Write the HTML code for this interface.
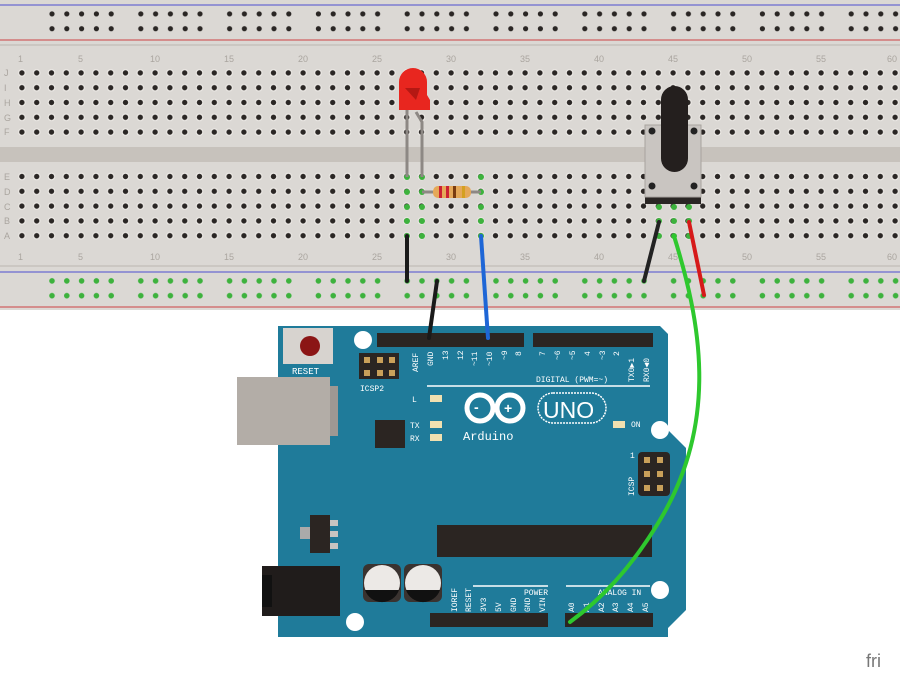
<!DOCTYPE html>
<html><head><style>html,body{margin:0;padding:0;background:#fff;}svg{display:block}</style></head>
<body>
<svg width="900" height="675" viewBox="0 0 900 675" xmlns="http://www.w3.org/2000/svg" font-family="Liberation Mono, monospace">
<defs>
<pattern id="h" x="14.5" y="65.5" width="14.8" height="14.8" patternUnits="userSpaceOnUse">
<circle cx="7.4" cy="7.4" r="3.8" fill="#eeebe7"/><circle cx="7.4" cy="7.4" r="2.7" fill="#2a2624"/></pattern>
<pattern id="rt" x="44.6" y="6.5" width="88.8" height="14.8" patternUnits="userSpaceOnUse">
<g fill="#2a2624"><circle cx="7.4" cy="7.4" r="2.6"/><circle cx="22.2" cy="7.4" r="2.6"/><circle cx="37" cy="7.4" r="2.6"/><circle cx="51.8" cy="7.4" r="2.6"/><circle cx="66.6" cy="7.4" r="2.6"/></g></pattern>
<pattern id="rb" x="44.6" y="273.5" width="88.8" height="14.8" patternUnits="userSpaceOnUse">
<g fill="#3db23d"><circle cx="7.4" cy="7.4" r="2.8"/><circle cx="22.2" cy="7.4" r="2.8"/><circle cx="37" cy="7.4" r="2.8"/><circle cx="51.8" cy="7.4" r="2.8"/><circle cx="66.6" cy="7.4" r="2.8"/></g></pattern>
</defs>
<rect x="0" y="0" width="900" height="310" fill="#dbd8d4"/>
<rect x="0" y="44" width="900" height="2" fill="#cbc7c2"/>
<line x1="0" y1="5" x2="900" y2="5" stroke="#6a6ad0" stroke-width="1.2"/>
<line x1="0" y1="40" x2="900" y2="40" stroke="#d06060" stroke-width="1.2"/>
<line x1="0" y1="272" x2="900" y2="272" stroke="#6a6ad0" stroke-width="1.2"/>
<line x1="0" y1="307" x2="900" y2="307" stroke="#d06060" stroke-width="1.2"/>
<rect x="0" y="265" width="900" height="2" fill="#cbc7c2"/>
<rect x="0" y="147" width="900" height="15" fill="#c7c2bc"/>
<rect x="44.6" y="7" width="856" height="30" fill="url(#rt)"/>
<rect x="44.6" y="275" width="856" height="28" fill="url(#rb)"/>
<rect x="14.5" y="65.5" width="888" height="74" fill="url(#h)"/>
<rect x="14.5" y="169.5" width="888" height="74" fill="url(#h)"/>
<g fill="#aaa59f" font-size="9" font-family="Liberation Sans, sans-serif">
<text x="18" y="62">1</text><text x="78" y="62">5</text><text x="150" y="62">10</text><text x="224" y="62">15</text><text x="298" y="62">20</text><text x="372" y="62">25</text><text x="446" y="62">30</text><text x="520" y="62">35</text><text x="594" y="62">40</text><text x="668" y="62">45</text><text x="742" y="62">50</text><text x="816" y="62">55</text><text x="887" y="62">60</text>
<text x="18" y="260">1</text><text x="78" y="260">5</text><text x="150" y="260">10</text><text x="224" y="260">15</text><text x="298" y="260">20</text><text x="372" y="260">25</text><text x="446" y="260">30</text><text x="520" y="260">35</text><text x="594" y="260">40</text><text x="668" y="260">45</text><text x="742" y="260">50</text><text x="816" y="260">55</text><text x="887" y="260">60</text>
<text x="4" y="76">J</text><text x="4" y="91">I</text><text x="4" y="106">H</text><text x="4" y="121">G</text><text x="4" y="135">F</text>
<text x="4" y="180">E</text><text x="4" y="195">D</text><text x="4" y="210">C</text><text x="4" y="224">B</text><text x="4" y="239">A</text>
</g>
<g fill="#3db23d">
<circle cx="407" cy="177" r="3"/><circle cx="407" cy="192" r="3"/><circle cx="407" cy="207" r="3"/><circle cx="407" cy="221" r="3"/><circle cx="407" cy="236" r="3"/>
<circle cx="422" cy="177" r="3"/><circle cx="422" cy="192" r="3"/><circle cx="422" cy="207" r="3"/><circle cx="422" cy="221" r="3"/><circle cx="422" cy="236" r="3"/>
<circle cx="481" cy="177" r="3"/><circle cx="481" cy="192" r="3"/><circle cx="481" cy="207" r="3"/><circle cx="481" cy="221" r="3"/><circle cx="481" cy="236" r="3"/>
<circle cx="659" cy="207" r="3"/><circle cx="659" cy="221" r="3"/><circle cx="659" cy="236" r="3"/>
<circle cx="674" cy="207" r="3"/><circle cx="674" cy="221" r="3"/><circle cx="674" cy="236" r="3"/>
<circle cx="689" cy="207" r="3"/><circle cx="689" cy="221" r="3"/><circle cx="689" cy="236" r="3"/>
</g>
<line x1="407" y1="110" x2="407" y2="177" stroke="#8d8884" stroke-width="3"/>
<polyline points="416,112 422,122 422,177" fill="none" stroke="#8d8884" stroke-width="3"/>
<path d="M399,100 L399,82 A14,14 0 0 1 427,82 L427,95 L430,100 L430,110 L399,110 Z" fill="#e8261f"/>
<path d="M405,88 L420,88 L416,100 Z" fill="#b51813"/>
<line x1="422" y1="192" x2="481" y2="192" stroke="#8d8884" stroke-width="3"/>
<rect x="433" y="186" width="38" height="12" rx="5" fill="#e5a858"/>
<rect x="439" y="186" width="3" height="12" fill="#c23"/><rect x="446" y="186" width="3" height="12" fill="#c23"/><rect x="453" y="186" width="3" height="12" fill="#7a3c10"/><rect x="462" y="186" width="3" height="12" fill="#d4a020"/>
<rect x="645" y="194" width="56" height="10" fill="#2a2624"/>
<rect x="645" y="125" width="56" height="72" fill="#c9c5c1" stroke="#a8a39e"/>
<circle cx="652" cy="131" r="3.5" fill="#222"/><circle cx="694" cy="131" r="3.5" fill="#222"/><circle cx="652" cy="186" r="3.5" fill="#222"/><circle cx="694" cy="186" r="3.5" fill="#222"/>
<rect x="661" y="86" width="27" height="86" rx="13.5" fill="#241f1e"/>
<!-- Arduino -->
<path d="M278,326 L660,326 L668,334 L668,430 L686,448 L686,610 L668,628 L668,637 L278,637 Z" fill="#1f7b9a"/>
<rect x="237" y="377" width="93" height="68" fill="#b3ada7"/><rect x="330" y="386" width="8" height="50" fill="#9e9893"/>
<rect x="262" y="566" width="78" height="50" fill="#201c1b"/><rect x="262" y="575" width="10" height="32" fill="#111"/>
<circle cx="660" cy="430" r="9" fill="#fff"/><circle cx="660" cy="590" r="9" fill="#fff"/><circle cx="355" cy="622" r="9" fill="#fff"/><circle cx="363" cy="340" r="9" fill="#fff"/>
<rect x="283" y="328" width="50" height="36" fill="#d7d3cf"/><circle cx="310" cy="346" r="10" fill="#8b1515"/>
<text x="292" y="374" font-size="9" fill="#fff">RESET</text>
<rect x="359" y="353" width="40" height="26" fill="#2b2522"/>
<g fill="#c9a05a"><rect x="364" y="357" width="6" height="6"/><rect x="377" y="357" width="6" height="6"/><rect x="389" y="357" width="6" height="6"/><rect x="364" y="370" width="6" height="6"/><rect x="377" y="370" width="6" height="6"/><rect x="389" y="370" width="6" height="6"/></g>
<text x="360" y="391" font-size="8" fill="#fff">ICSP2</text>
<rect x="377" y="333" width="147" height="14" fill="#2b2522"/>
<rect x="533" y="333" width="120" height="14" fill="#2b2522"/>
<rect x="430" y="613" width="118" height="14" fill="#2b2522"/>
<rect x="565" y="613" width="88" height="14" fill="#2b2522"/>
<g fill="#fff" font-size="8">
<text transform="translate(418,372) rotate(-90)">AREF</text><text transform="translate(433,366) rotate(-90)">GND</text><text transform="translate(448,360) rotate(-90)">13</text><text transform="translate(463,360) rotate(-90)">12</text><text transform="translate(477,366) rotate(-90)">~11</text><text transform="translate(492,366) rotate(-90)">~10</text><text transform="translate(507,360) rotate(-90)">~9</text><text transform="translate(521,356) rotate(-90)">8</text>
<text transform="translate(545,356) rotate(-90)">7</text><text transform="translate(560,360) rotate(-90)">~6</text><text transform="translate(575,360) rotate(-90)">~5</text><text transform="translate(590,356) rotate(-90)">4</text><text transform="translate(605,360) rotate(-90)">~3</text><text transform="translate(619,356) rotate(-90)">2</text><text transform="translate(634,382) rotate(-90)">TX0▶1</text><text transform="translate(649,382) rotate(-90)">RX0◀0</text>
<text x="536" y="382">DIGITAL (PWM=~)</text>
<text x="412" y="402">L</text><text x="410" y="428">TX</text><text x="410" y="441">RX</text><text x="631" y="427">ON</text>
<text x="524" y="595">POWER</text><text x="598" y="595">ANALOG IN</text>
<text transform="translate(457,612) rotate(-90)">IOREF</text><text transform="translate(471,612) rotate(-90)">RESET</text><text transform="translate(486,612) rotate(-90)">3V3</text><text transform="translate(501,612) rotate(-90)">5V</text><text transform="translate(516,612) rotate(-90)">GND</text><text transform="translate(530,612) rotate(-90)">GND</text><text transform="translate(545,612) rotate(-90)">VIN</text>
<text transform="translate(574,612) rotate(-90)">A0</text><text transform="translate(589,612) rotate(-90)">A1</text><text transform="translate(604,612) rotate(-90)">A2</text><text transform="translate(618,612) rotate(-90)">A3</text><text transform="translate(633,612) rotate(-90)">A4</text><text transform="translate(648,612) rotate(-90)">A5</text>
<text transform="translate(634,496) rotate(-90)">ICSP</text><text x="630" y="458">1</text>
</g>
<line x1="427" y1="386" x2="650" y2="386" stroke="#fff" stroke-width="1.5"/>
<line x1="473" y1="586" x2="548" y2="586" stroke="#fff" stroke-width="1.5"/>
<line x1="566" y1="586" x2="650" y2="586" stroke="#fff" stroke-width="1.5"/>
<g fill="#f0e0b0"><rect x="430" y="395" width="12" height="7"/><rect x="430" y="421" width="12" height="7"/><rect x="430" y="434" width="12" height="7"/><rect x="613" y="421" width="12" height="7"/></g>
<rect x="638" y="452" width="32" height="44" rx="4" fill="#2b2522"/>
<g fill="#c9a05a"><rect x="644" y="457" width="6" height="6"/><rect x="657" y="457" width="6" height="6"/><rect x="644" y="471" width="6" height="6"/><rect x="657" y="471" width="6" height="6"/><rect x="644" y="485" width="6" height="6"/><rect x="657" y="485" width="6" height="6"/></g>
<g fill="none" stroke="#fff" stroke-width="5"><circle cx="480" cy="408" r="13"/><circle cx="510" cy="408" r="13"/></g>
<text x="474" y="412" fill="#fff" font-size="14" font-family="Liberation Sans, sans-serif" font-weight="bold">-</text>
<text x="504" y="413" fill="#fff" font-size="14" font-family="Liberation Sans, sans-serif" font-weight="bold">+</text>
<rect x="538" y="393" width="68" height="30" rx="15" fill="none" stroke="#fff" stroke-width="1.5" stroke-dasharray="2 1"/>
<text x="543" y="418" fill="#fff" font-size="23" font-family="Liberation Sans, sans-serif">UNO</text>
<text x="463" y="440" fill="#fff" font-size="12">Arduino</text>
<rect x="375" y="420" width="30" height="28" fill="#2b2522"/>
<rect x="437" y="525" width="215" height="32" fill="#2b2522"/>
<rect x="310" y="515" width="20" height="38" fill="#2b2522"/><rect x="330" y="520" width="8" height="6" fill="#c9c5c1"/><rect x="330" y="531" width="8" height="6" fill="#c9c5c1"/><rect x="330" y="543" width="8" height="6" fill="#c9c5c1"/><rect x="300" y="527" width="10" height="12" fill="#aaa"/>
<g><rect x="363" y="564" width="38" height="38" rx="6" fill="#3a3330"/><circle cx="382" cy="583" r="18" fill="#ece9e6"/><path d="M365,590 A18,18 0 0 0 399,590 Z" fill="#111"/>
<rect x="404" y="564" width="38" height="38" rx="6" fill="#3a3330"/><circle cx="423" cy="583" r="18" fill="#ece9e6"/><path d="M406,590 A18,18 0 0 0 440,590 Z" fill="#111"/></g>
<!-- wires on top -->
<g stroke-linecap="round" fill="none">
<line x1="407" y1="236" x2="407" y2="281" stroke="#1a1a1a" stroke-width="4"/>
<line x1="437" y1="281" x2="429" y2="338" stroke="#1a1a1a" stroke-width="4"/>
<line x1="481" y1="236" x2="488" y2="338" stroke="#1e66d6" stroke-width="4"/>
<line x1="659" y1="222" x2="644" y2="281" stroke="#222" stroke-width="4"/>
<line x1="689" y1="222" x2="704" y2="295" stroke="#d61a1a" stroke-width="4"/>
<path d="M674,236 C700,320 720,420 660,520 C630,570 600,600 570,622" stroke="#2ec82e" stroke-width="4"/>
</g>
<text x="866" y="667" fill="#777" font-size="18" font-family="Liberation Sans, sans-serif">fri</text>
</svg>
</body></html>
